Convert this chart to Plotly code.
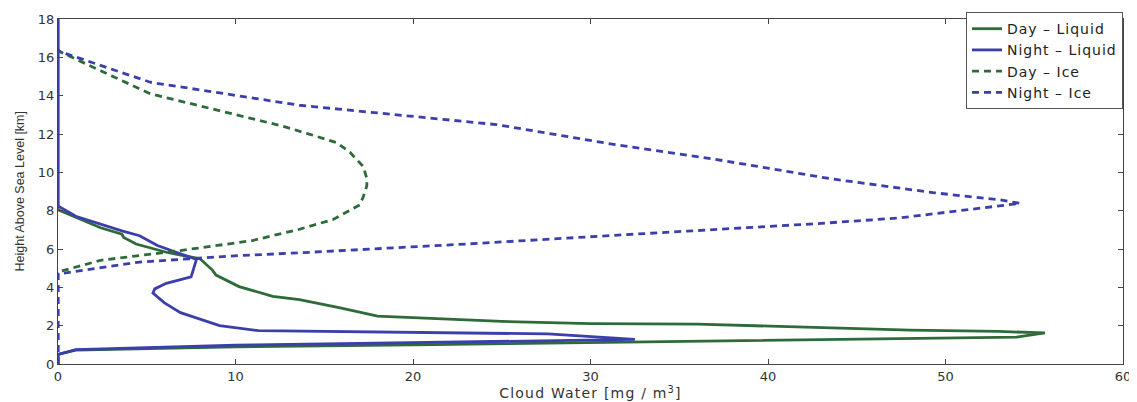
import plotly.graph_objects as go

# ---- Data ----
day_liquid_x = [0, 0, 1.0, 10, 20, 36, 50, 54, 55.6, 53, 48, 40, 36, 30, 25, 18, 15.9, 13.6, 12.1, 10.2, 8.9, 8.7, 8.0, 6.1, 4.4, 3.7, 3.6, 2.4, 0, 0]
day_liquid_y = [0, 0.5, 0.72, 0.9, 1.0, 1.18, 1.32, 1.4, 1.62, 1.7, 1.77, 1.96, 2.08, 2.11, 2.22, 2.5, 2.93, 3.36, 3.53, 4.04, 4.64, 4.9, 5.49, 5.83, 6.26, 6.6, 6.77, 7.11, 8.05, 18]

night_liquid_x = [0, 0, 1.0, 10, 16, 25, 32.5, 27.6, 23, 13.6, 11.3, 9.1, 6.9, 6.0, 5.35, 5.45, 6.1, 7.5, 7.6, 7.8, 6.9, 5.6, 4.6, 3.6, 1.0, 0, 0]
night_liquid_y = [0, 0.5, 0.75, 0.98, 1.06, 1.18, 1.28, 1.57, 1.62, 1.7, 1.74, 2.0, 2.68, 3.19, 3.7, 3.92, 4.21, 4.55, 4.9, 5.46, 5.75, 6.18, 6.69, 6.95, 7.71, 8.25, 18]

day_ice_x = [0, 0, 2.4, 6.9, 10.9, 13.6, 15.5, 17.0, 17.2, 17.4, 17.4, 17.2, 16.45, 15.7, 14.2, 12.7, 10.8, 7.1, 5.2, 2.4, 0.1, 0]
day_ice_y = [0, 4.8, 5.41, 5.92, 6.43, 7.03, 7.54, 8.3, 8.73, 9.3, 9.67, 10.3, 11.04, 11.55, 11.98, 12.4, 12.83, 13.68, 14.1, 15.3, 16.3, 16.4]

night_ice_x = [0, 0, 4.6, 10.25, 13.6, 23, 32.4, 42.7, 47.4, 52.1, 54.2, 53.1, 49.3, 43.5, 36.9, 31.3, 24.7, 18.1, 13.6, 5.2, 2.4, 0.1, 0]
night_ice_y = [0, 4.7, 5.32, 5.66, 5.8, 6.26, 6.77, 7.32, 7.62, 8.14, 8.38, 8.56, 8.94, 9.67, 10.7, 11.46, 12.49, 13.09, 13.5, 14.7, 15.6, 16.3, 16.4]

series_names = ["Day \u2013 Liquid", "Night \u2013 Liquid", "Day \u2013 Ice", "Night \u2013 Ice"]
x_ticks = [0, 10, 20, 30, 40, 50, 60]
y_ticks = [0, 2, 4, 6, 8, 10, 12, 14, 16, 18]
x_title = "Cloud Water [mg / m<sup>3</sup>]"
y_title = "Height Above Sea Level [km]"

GREEN = "#2e6b39"
BLUE = "#3b3fab"
LW = 2.8
DASH = "7px,5px"
FONT = "DejaVu Sans, Arial, sans-serif"


def spaced(text, px):
    return "<span style='letter-spacing:%spx'>%s</span>" % (px, text)


LS = 1.0
fig = go.Figure()
fig.add_trace(go.Scatter(x=day_liquid_x, y=day_liquid_y, mode="lines", name=spaced(series_names[0], LS),
                         line=dict(color=GREEN, width=LW), cliponaxis=False))
fig.add_trace(go.Scatter(x=night_liquid_x, y=night_liquid_y, mode="lines", name=spaced(series_names[1], LS),
                         line=dict(color=BLUE, width=LW), cliponaxis=False))
fig.add_trace(go.Scatter(x=day_ice_x, y=day_ice_y, mode="lines", name=spaced(series_names[2], LS),
                         line=dict(color=GREEN, width=LW, dash=DASH), cliponaxis=False))
fig.add_trace(go.Scatter(x=night_ice_x, y=night_ice_y, mode="lines", name=spaced(series_names[3], LS),
                         line=dict(color=BLUE, width=LW, dash=DASH), cliponaxis=False))

axis_common = dict(showgrid=False, zeroline=False, showline=True, linecolor="#444", linewidth=1,
                   mirror="ticks", ticks="inside", ticklen=5, tickcolor="#444",
                   ticklabeloverflow="allow",
                   tickfont=dict(family=FONT, size=13, color="#333"))

# page body adds an 8px margin: compensate in figure size/margins
fig.update_layout(
    width=1129, height=394,
    margin=dict(l=50, r=14, t=4, b=38),
    paper_bgcolor="white", plot_bgcolor="white",
    font=dict(family=FONT, color="#333"),
    xaxis=dict(range=[0, 60], tickvals=x_ticks, ticktext=[str(v) for v in x_ticks],
               title=dict(text=spaced(x_title, 1.2), standoff=0,
                          font=dict(size=14, family=FONT, color="#333")),
               automargin=False, **axis_common),
    yaxis=dict(range=[0, 18], tickvals=y_ticks, ticktext=[str(v) for v in y_ticks],
               automargin=False, **axis_common),
    legend=dict(x=1.0, y=1.02, xanchor="right", yanchor="top",
                bgcolor="white", bordercolor="#555", borderwidth=1,
                font=dict(size=14, family=FONT, color="#222"),
                tracegroupgap=0, itemwidth=30),
    showlegend=True,
    annotations=[dict(text=y_title, textangle=-90, xref="paper", yref="paper",
                      x=0, y=0.5, xanchor="center", yanchor="middle", xshift=-39,
                      showarrow=False,
                      font=dict(size=12.5, family="Liberation Sans, Arial, sans-serif", color="#333"))],
)

fig.write_html("out.html")
